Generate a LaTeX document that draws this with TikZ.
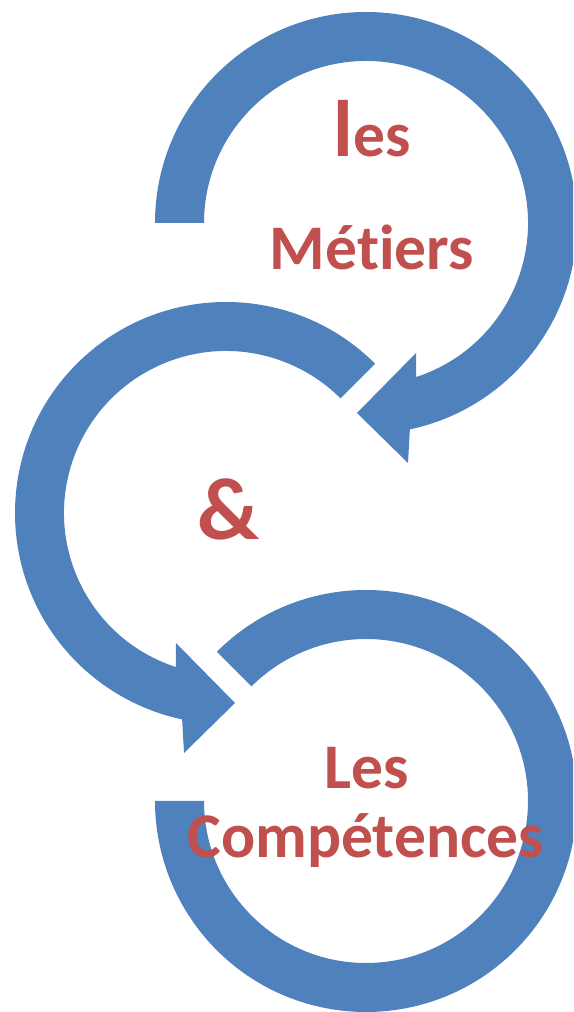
\documentclass[tikz,border=0pt]{standalone}
\usepackage{fontspec}
\setmainfont{Carlito}[Ligatures=NoCommon]
\definecolor{ringblue}{HTML}{4F81BD}
\definecolor{wordred}{HTML}{C0504D}

\begin{document}
\begin{tikzpicture}[x=0.5pt, y=0.5pt,
  band/.style={fill=ringblue},
  word/.style={text=wordred, font=\bfseries\fontsize{31.8}{31.8}\selectfont, inner sep=0pt, anchor=base}]
\useasboundingbox (0,0) rectangle (573,1012);
\clip (0,0) rectangle (573,1012);

\coordinate (topc) at (366,789);
\coordinate (midc) at (226,499);
\coordinate (botc) at (366,211);

\fill[band, shift={(topc)}] (180:211) arc[start angle=180, end angle=-78, radius=211]
  -- (42,-240) -- (-9,-190) -- (50,-130) -- (-72:162) arc[start angle=-72, end angle=180, radius=162] -- cycle;
\fill[band, shift={(midc)}] (45:211) arc[start angle=45, end angle=258, radius=211]
  -- (-42,-240) -- (9,-190) -- (-50,-130) -- (252:162) arc[start angle=252, end angle=45, radius=162] -- cycle;
\fill[band, shift={(botc)}] (135:211) arc[start angle=135, end angle=-180, radius=211]
  -- (180:162) arc[start angle=-180, end angle=135, radius=162] -- cycle;

\node[word] (les) at (372,855) {{\fontsize{40}{40}\selectfont l}es};
\node[word] (metiers) at (372,742) {Métiers};
\node[word, font=\bfseries\fontsize{44}{44}\selectfont] (amp) at (229,472) {\&};
\node[word] (lesc) at (367,223) {Les};
\node[word] (competences) at (366,154) {Compétences};
\end{tikzpicture}
\end{document}
